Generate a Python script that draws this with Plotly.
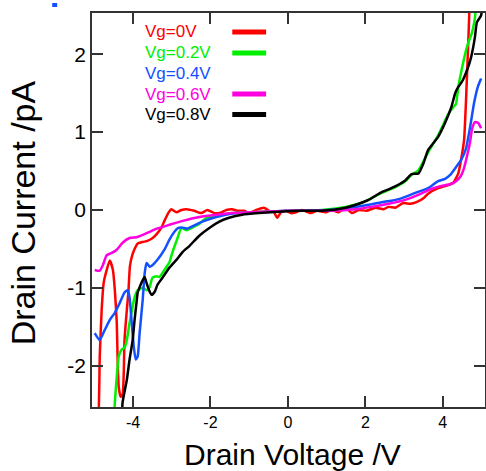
import plotly.graph_objects as go

# ---- data ----
x_vg0 = [-4.89, -4.87, -4.86, -4.81, -4.76, -4.68, -4.60, -4.52, -4.47, -4.42, -4.40, -4.37, -4.32, -4.27,
         -4.24, -4.22, -4.16, -4.12, -4.08, -4.02, -3.96, -3.88, -3.75, -3.65, -3.52, -3.39, -3.26, -3.19,
         -3.08, -3.01, -2.88, -2.75, -2.62, -2.42, -2.24, -2.08, -1.90, -1.72, -1.59, -1.44, -1.31, -1.13,
         -1.00, -0.82, -0.62, -0.49, -0.36, -0.28, -0.18, -0.05, 0.08, 0.21, 0.36, 0.59, 0.75, 0.98, 1.13,
         1.31, 1.49, 1.65, 1.83, 2.03, 2.26, 2.47, 2.60, 2.78, 2.98, 3.16, 3.32, 3.50, 3.62, 3.88, 4.14,
         4.27, 4.40, 4.47, 4.55, 4.60, 4.65, 4.68, 4.70]
i_vg0 = [-2.70, -2.20, -1.88, -1.28, -0.94, -0.77, -0.65, -0.77, -1.03, -1.45, -1.88, -2.27, -2.40, -2.37,
         -2.09, -1.67, -1.28, -1.05, -0.72, -0.58, -0.50, -0.43, -0.41, -0.40, -0.37, -0.31, -0.22, -0.14,
         -0.03, 0.01, -0.03, 0.00, 0.01, -0.01, -0.04, 0.00, -0.04, -0.03, 0.00, 0.01, -0.01, -0.01,
         -0.04, 0.00, 0.03, -0.01, -0.03, -0.10, -0.03, -0.01, -0.04, -0.03, 0.00, -0.04, -0.01, -0.03, 0.00,
         -0.03, 0.03, -0.04, 0.00, -0.01, 0.03, 0.01, 0.04, 0.03, 0.09, 0.08, 0.10, 0.15, 0.21, 0.28, 0.32,
         0.35, 0.47, 0.64, 0.90, 1.41, 2.05, 2.47, 2.95]

x_vg02 = [-4.49, -4.47, -4.42, -4.37, -4.29, -4.22, -4.16, -4.09, -4.01, -3.96, -3.88, -3.75, -3.65, -3.57,
          -3.50, -3.39, -3.32, -3.24, -3.11, -3.06, -2.98, -2.85, -2.75, -2.62, -2.49, -2.29, -2.11, -1.85,
          -1.44, -1.00, -0.57, 0.00, 0.28, 0.87, 1.49, 1.83, 2.08, 2.42, 2.67, 3.03, 3.19, 3.37, 3.62, 3.88,
          4.14, 4.27, 4.34, 4.40, 4.47, 4.60, 4.68, 4.73, 4.78, 4.83, 4.88]
i_vg02 = [-2.70, -2.47, -2.14, -1.88, -1.79, -1.77, -1.67, -1.45, -1.24, -1.12, -1.03, -1.00, -1.03, -0.99,
          -0.87, -0.85, -0.86, -0.81, -0.71, -0.67, -0.54, -0.36, -0.23, -0.26, -0.23, -0.18, -0.10, -0.08,
          -0.04, -0.03, -0.02, -0.01, -0.01, 0.00, 0.04, 0.08, 0.13, 0.22, 0.27, 0.37, 0.45, 0.51, 0.74, 0.96,
          1.23, 1.32, 1.36, 1.58, 1.76, 2.05, 2.18, 2.24, 2.33, 2.47, 2.80]

x_vg04 = [-4.99, -4.86, -4.73, -4.60, -4.47, -4.34, -4.22, -4.14, -4.09, -4.04, -3.98, -3.93, -3.88, -3.83,
          -3.75, -3.70, -3.65, -3.57, -3.50, -3.37, -3.19, -3.06, -2.93, -2.83, -2.67, -2.60, -2.47, -2.21,
          -1.85, -1.34, -0.75, 0.00, 0.28, 1.31, 2.01, 2.42, 2.67, 2.93, 3.29, 3.62, 3.88, 4.06, 4.19, 4.34,
          4.47, 4.60, 4.70, 4.81, 4.91, 4.99]
i_vg04 = [-1.58, -1.67, -1.54, -1.41, -1.32, -1.19, -1.06, -1.03, -1.12, -1.41, -1.76, -1.92, -1.88, -1.58,
          -1.15, -0.81, -0.68, -0.73, -0.71, -0.64, -0.51, -0.38, -0.28, -0.23, -0.23, -0.24, -0.21, -0.15,
          -0.09, -0.04, -0.03, -0.01, -0.01, 0.01, 0.06, 0.10, 0.12, 0.15, 0.22, 0.28, 0.37, 0.40, 0.45, 0.55,
          0.64, 0.79, 1.05, 1.38, 1.59, 1.69]

x_vg06 = [-4.99, -4.86, -4.78, -4.68, -4.55, -4.42, -4.27, -4.09, -3.91, -3.75, -3.57, -3.39, -3.24, -3.06,
          -2.72, -2.29, -1.85, -1.44, -1.00, 0.00, 1.05, 1.75, 2.16, 2.60, 3.03, 3.44, 3.70, 3.96, 4.19, 4.34,
          4.47, 4.55, 4.60, 4.70, 4.76, 4.83, 4.91, 4.99]
i_vg06 = [-0.77, -0.78, -0.71, -0.58, -0.55, -0.51, -0.42, -0.36, -0.35, -0.32, -0.28, -0.24, -0.22, -0.19,
          -0.14, -0.09, -0.06, -0.04, -0.03, -0.01, -0.01, 0.01, 0.04, 0.08, 0.13, 0.21, 0.27, 0.31, 0.33, 0.37,
          0.44, 0.54, 0.64, 0.86, 1.05, 1.13, 1.12, 1.05]

x_vg08 = [-4.29, -4.27, -4.16, -4.09, -4.01, -3.96, -3.91, -3.88, -3.83, -3.75, -3.70, -3.65, -3.57, -3.52,
          -3.44, -3.37, -3.24, -3.06, -2.88, -2.72, -2.54, -2.29, -2.03, -1.77, -1.52, -1.18, -0.75, -0.15,
          0.28, 0.87, 1.49, 1.83, 2.08, 2.42, 2.67, 3.03, 3.19, 3.37, 3.50, 3.62, 3.88, 4.06, 4.22, 4.32,
          4.40, 4.52, 4.65, 4.73, 4.83, 4.88, 4.99, 5.02]
i_vg08 = [-2.70, -2.47, -2.18, -1.92, -1.67, -1.41, -1.19, -1.06, -0.99, -0.90, -0.86, -0.94, -1.05, -1.09,
          -1.05, -0.96, -0.87, -0.74, -0.64, -0.54, -0.46, -0.33, -0.23, -0.15, -0.10, -0.06, -0.04, -0.02,
          -0.01, -0.01, 0.03, 0.08, 0.13, 0.23, 0.28, 0.38, 0.46, 0.47, 0.60, 0.77, 0.94, 1.12, 1.32, 1.50,
          1.58, 1.67, 1.83, 1.96, 2.22, 2.41, 2.50, 2.70]

series_names = ["Vg=0V", "Vg=0.2V", "Vg=0.4V", "Vg=0.6V", "Vg=0.8V"]
series_x = [x_vg0, x_vg02, x_vg04, x_vg06, x_vg08]
series_y = [i_vg0, i_vg02, i_vg04, i_vg06, i_vg08]
series_colors = ["#ff0000", "#00f000", "#1450ff", "#ff00e0", "#000000"]
legend_has_line = [True, True, False, True, True]

x_tickvals = [-4, -2, 0, 2, 4]
x_ticktext = ["-4", "-2", "0", "2", "4"]
y_tickvals = [-2, -1, 0, 1, 2]
y_ticktext = ["-2", "-1", "0", "1", "2"]

# ---- figure ----
W, H = 487, 471
L, R, T, B = 92, 0, 13, 64
pw, ph = W - L - R, H - T - B

def px(xp):
    return (xp - L) / pw

def py(yp):
    return (H - B - yp) / ph

fig = go.Figure()
for name, xs, ys, col in zip(series_names, series_x, series_y, series_colors):
    fig.add_trace(go.Scatter(x=xs, y=ys, mode="lines", name=name,
                             line=dict(color=col, width=2.5, shape="spline", smoothing=0.5),
                             showlegend=False))

axis_common = dict(showgrid=False, zeroline=False, showline=True, mirror="ticks",
                   linecolor="#333333", linewidth=1.5, ticks="inside", ticklen=11,
                   tickwidth=1.5, tickcolor="#333333")

fig.update_xaxes(range=[-5.06, 5.09], tickvals=x_tickvals, ticktext=x_ticktext,
                 tickfont=dict(family="Liberation Sans, Arial", size=16, color="#000"),
                 **axis_common)
fig.update_yaxes(range=[-2.53, 2.53], tickvals=y_tickvals, ticktext=y_ticktext,
                 tickfont=dict(family="Liberation Sans, Arial", size=21, color="#000"),
                 **axis_common)

annotations = []
shapes = []
row_y = [32, 53, 73.5, 94, 114.5]
for k, name in enumerate(series_names):
    annotations.append(dict(text=name, xref="paper", yref="paper", x=px(143), y=py(row_y[k]),
                            xanchor="left", yanchor="middle", showarrow=False,
                            font=dict(family="Liberation Sans, Arial", size=17, color=series_colors[k])))
    if legend_has_line[k]:
        shapes.append(dict(type="line", xref="paper", yref="paper", x0=px(233), x1=px(267),
                           y0=py(row_y[k]), y1=py(row_y[k]),
                           line=dict(color=series_colors[k], width=5)))

# stray blue legend marker at top-left
shapes.append(dict(type="rect", xref="paper", yref="paper", x0=px(52), x1=px(57), y0=py(3), y1=py(7),
                   fillcolor=series_colors[2], line=dict(width=0)))

annotations.append(dict(text="Drain Voltage /V", xref="paper", yref="paper", x=px(294), y=py(455),
                        xanchor="center", yanchor="middle", showarrow=False,
                        font=dict(family="Liberation Sans, Arial", size=30, color="#000")))
annotations.append(dict(text="Drain Current /pA", xref="paper", yref="paper", x=px(23), y=py(213),
                        xanchor="center", yanchor="middle", showarrow=False, textangle=-90,
                        font=dict(family="Liberation Sans, Arial", size=34, color="#000")))

fig.update_layout(width=W, height=H, margin=dict(l=L, r=R, t=T, b=B),
                  paper_bgcolor="white", plot_bgcolor="white",
                  annotations=annotations, shapes=shapes, showlegend=False)

fig.write_html("out.html", config={"displayModeBar": False},
               post_script="document.body.style.margin='0';document.body.style.overflow='hidden';")
